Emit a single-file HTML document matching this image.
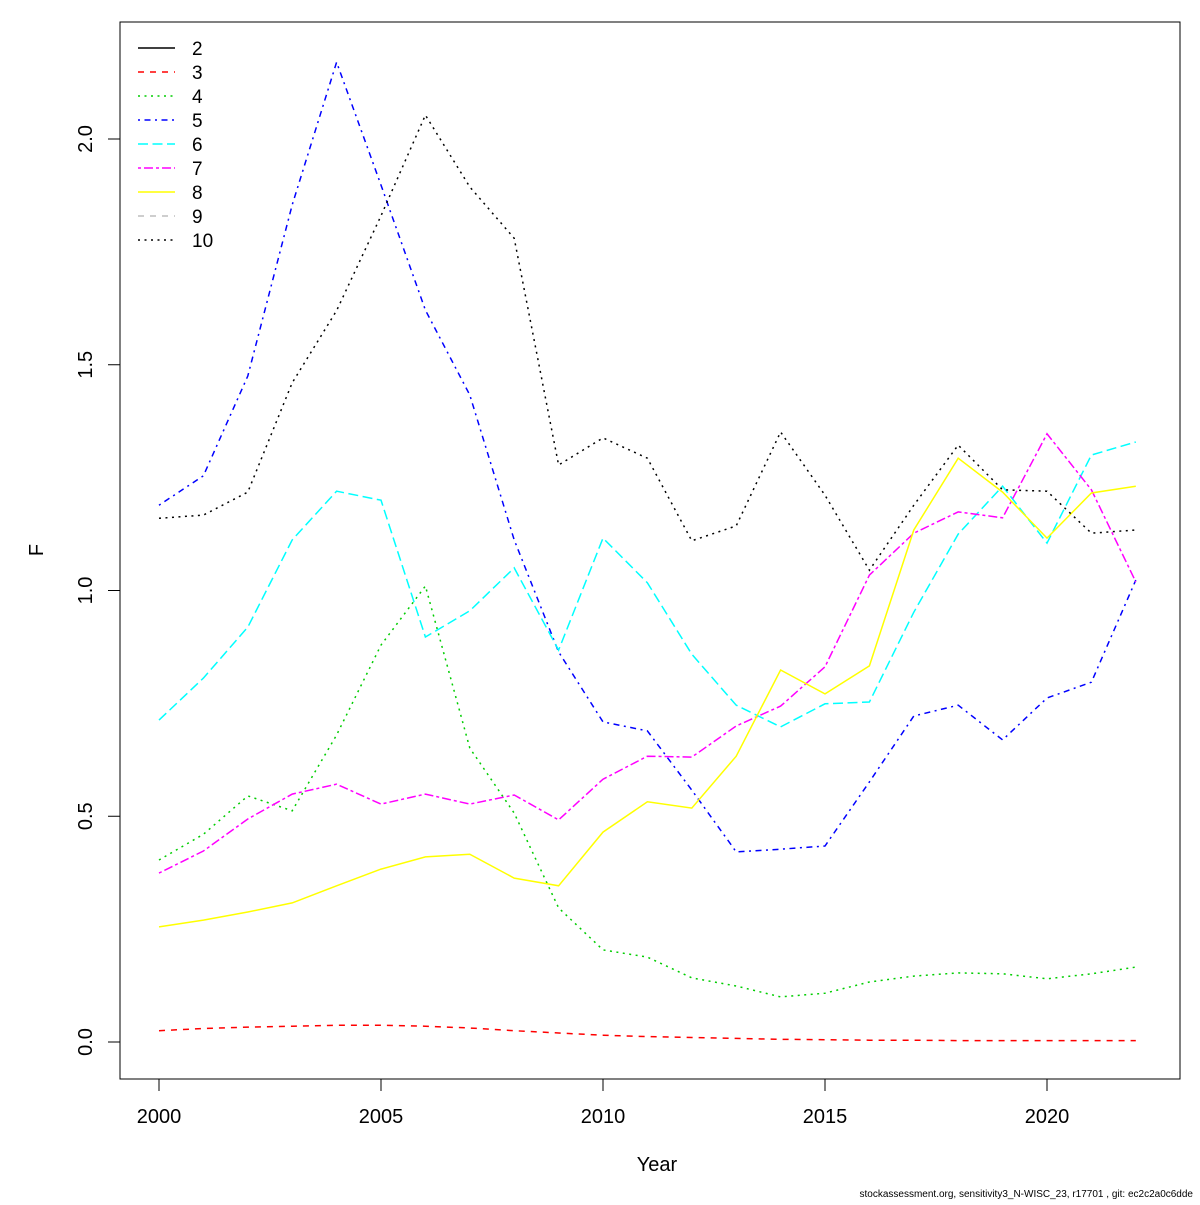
<!DOCTYPE html>
<html><head><meta charset="utf-8"><style>
body{margin:0;background:#fff}
svg text{font-family:"Liberation Sans",sans-serif;fill:#000}
</style></head><body>
<svg id="chart" width="1200" height="1200" xmlns="http://www.w3.org/2000/svg">
<rect x="0" y="0" width="1200" height="1200" fill="#fff"/>
<rect x="120" y="22" width="1060" height="1057" fill="none" stroke="#000" stroke-width="1"/>
<g id="axes"></g>
<g id="series"></g>
<g id="legend"></g>
<text x="657" y="1171" font-size="20" text-anchor="middle">Year</text>
<text x="0" y="0" font-size="20" text-anchor="middle" transform="translate(43,550) rotate(-90)">F</text>
<text x="1193" y="1197" font-size="10" text-anchor="end">stockassessment.org, sensitivity3_N-WISC_23, r17701 , git: ec2c2a0c6dde</text>
</svg>
<script>
const years = [2000,2001,2002,2003,2004,2005,2006,2007,2008,2009,2010,2011,2012,2013,2014,2015,2016,2017,2018,2019,2020,2021,2022];
const xTicks = [2000,2005,2010,2015,2020];
const yTicks = [0,0.5,1,1.5,2];
const yTickLabels = ["0.0","0.5","1.0","1.5","2.0"];
const seriesNames = ["2","3","4","5","6","7","8","9","10"];
const s2 = [];
const s3 = [0.025,0.03,0.033,0.035,0.037,0.037,0.035,0.031,0.025,0.02,0.015,0.012,0.01,0.008,0.006,0.005,0.004,0.004,0.003,0.003,0.003,0.003,0.003];
const s4 = [0.403,0.46,0.545,0.512,0.68,0.879,1.01,0.651,0.507,0.297,0.204,0.188,0.142,0.124,0.1,0.108,0.133,0.146,0.153,0.151,0.14,0.151,0.166];
const s5 = [1.189,1.254,1.475,1.854,2.17,1.898,1.621,1.433,1.112,0.864,0.709,0.689,0.558,0.421,0.427,0.434,0.576,0.722,0.746,0.669,0.762,0.797,1.023];
const s6 = [0.713,0.806,0.919,1.112,1.22,1.2,0.897,0.955,1.05,0.868,1.116,1.017,0.859,0.746,0.698,0.749,0.753,0.952,1.125,1.231,1.105,1.3,1.329];
const s7 = [0.374,0.423,0.494,0.549,0.571,0.527,0.549,0.527,0.547,0.492,0.582,0.633,0.631,0.7,0.744,0.831,1.034,1.127,1.174,1.161,1.347,1.223,1.019];
const s8 = [0.255,0.27,0.288,0.308,0.346,0.383,0.41,0.416,0.363,0.346,0.465,0.532,0.518,0.633,0.824,0.771,0.833,1.134,1.293,1.218,1.116,1.216,1.231];
const s9 = [];
const s10 = [1.16,1.167,1.218,1.46,1.62,1.83,2.053,1.894,1.78,1.278,1.338,1.293,1.11,1.143,1.351,1.211,1.045,1.189,1.322,1.223,1.22,1.127,1.134];

const seriesData = [s2,s3,s4,s5,s6,s7,s8,s9,s10];
const colors = ["#000","#f00","#00cd00","#00f","#0ff","#f0f","#ff0","#bebebe","#000"];
const dashes = ["","6,6","2,4.5","2,4.5,6,4.5","10,4.5","3,3,9,3","","6,6","2,4.5"];

const NS = "http://www.w3.org/2000/svg";
const xs = v => 159 + (v - 2000) * 44.4;
const ys = v => 1042 - v * 451.5;
function mk(tag, attrs, parent){const e=document.createElementNS(NS,tag);for(const k in attrs)e.setAttribute(k,attrs[k]);parent.appendChild(e);return e;}

const axes = document.getElementById('axes');
xTicks.forEach(t=>{
  const l = mk('line',{x1:xs(t),x2:xs(t),y1:1079,y2:1091,stroke:'#000'},axes);
  
  
  const tx = mk('text',{x:xs(t),y:1123,'font-size':20,'text-anchor':'middle'},axes);
  tx.textContent = t;
  
  
});
yTicks.forEach((t,i)=>{
  const l = mk('line',{x1:108,x2:120,y1:ys(t),y2:ys(t),stroke:'#000'},axes);
  
  
  const tx = mk('text',{x:0,y:0,'font-size':20,'text-anchor':'middle',transform:`translate(92,${ys(t)}) rotate(-90)`},axes);
  tx.textContent = yTickLabels[i];
  
  
});

const sg = document.getElementById('series');
seriesData.forEach((d,i)=>{
  if(!d.length) return;
  const pts = d.map((v,j)=>xs(years[j]).toFixed(1)+','+ys(v).toFixed(1)).join(' ');
  const p = mk('polyline',{points:pts,fill:'none',stroke:colors[i],'stroke-width':1.5},sg);
  if(dashes[i]) p.setAttribute('stroke-dasharray',dashes[i]);
  
  
});

const lg = document.getElementById('legend');
seriesNames.forEach((n,i)=>{
  const y = 48 + i*24;
  const g = mk('g',{},lg);
  
  
  const l = mk('line',{x1:138,x2:175,y1:y,y2:y,stroke:colors[i],'stroke-width':1.5},g);
  if(dashes[i]) l.setAttribute('stroke-dasharray',dashes[i]);
  const t = mk('text',{x:192,y:y+7,'font-size':19},g);
  t.textContent = n;
});
</script>
</body></html>
